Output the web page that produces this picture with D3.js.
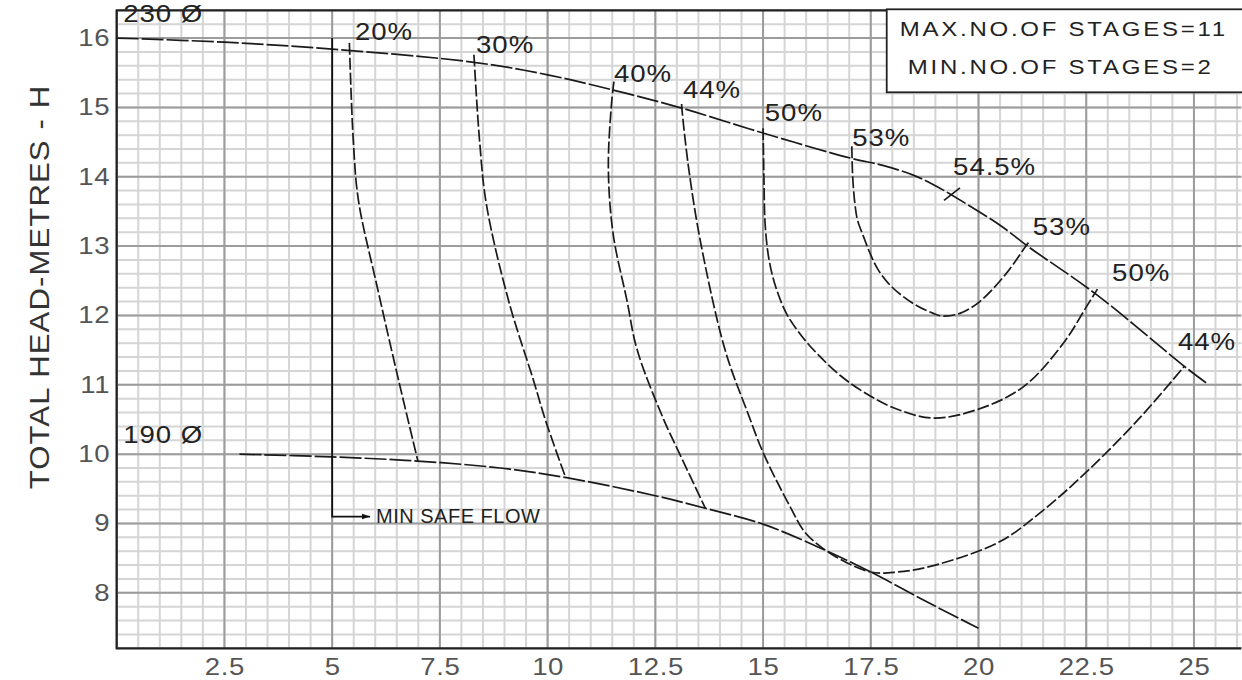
<!DOCTYPE html>
<html>
<head>
<meta charset="utf-8">
<script src="https://cdn.jsdelivr.net/npm/d3@7"></script>
<style>
  html, body { margin: 0; padding: 0; background: #fff; }
  svg { display: block; font-family: "Liberation Sans", Arial, sans-serif; }
</style>
</head>
<body>
<svg id="chart" width="1242" height="680"></svg>
<script>
// ---------- DATA ----------
const xTicks = [2.5, 5, 7.5, 10, 12.5, 15, 17.5, 20, 22.5, 25];
const yTicks = [8, 9, 10, 11, 12, 13, 14, 15, 16];

// Head curves (flow, head)
const head230 = [[0,16.0],[2.5,15.94],[5,15.84],[8.29,15.65],[10,15.47],[11.52,15.25],[13.11,14.99],[15,14.63],[17.02,14.27],[17.8,14.16],[18.5,14.02],[19.0,13.87],[19.34,13.75],[20.5,13.3],[21.16,12.99],[22.74,12.30],[24.83,11.24],[25.3,11.02]];
const head190 = [[2.85,10.0],[5,9.96],[6.98,9.9],[8.9,9.8],[10.44,9.66],[12.5,9.40],[13.66,9.22],[15.0,8.99],[16.35,8.64],[17.5,8.30],[18.8,7.87],[20,7.49]];

// Efficiency curves
const eff20 = [[5.4,15.93],[5.49,14.53],[5.61,13.66],[6.05,12.4],[6.54,11.07],[6.99,9.9]];
const eff30 = [[8.29,15.76],[8.42,14.53],[8.58,13.6],[9.1,12.2],[9.67,11.07],[9.95,10.49],[10.42,9.66]];
const eff40 = [[11.54,15.37],[11.49,15.1],[11.41,14.14],[11.52,13.18],[11.84,12.22],[12.08,11.5],[12.7,10.49],[13.06,10.01],[13.66,9.22]];
const eff44 = [[13.11,15.05],[13.12,14.96],[13.27,14.14],[13.54,13.09],[14.12,11.5],[14.66,10.57],[15.01,10.01],[15.63,9.24],[15.99,8.86],[16.61,8.55],[17.5,8.30],[18.12,8.30],[19.0,8.40],[20.5,8.74],[21.5,9.19],[22.5,9.74],[23.71,10.5],[24.78,11.27]];
const eff50 = [[15.0,14.7],[15.02,14.0],[15.05,13.3],[15.14,12.8],[15.3,12.4],[15.55,12.02],[15.9,11.7],[16.3,11.42],[16.8,11.13],[17.4,10.87],[18.1,10.65],[18.95,10.52],[19.96,10.64],[21.04,10.97],[21.97,11.6],[22.51,12.13],[22.76,12.38]];
const eff53 = [[17.06,14.44],[17.08,14.0],[17.13,13.62],[17.19,13.38],[17.33,13.14],[17.48,12.9],[17.67,12.66],[17.99,12.41],[18.49,12.17],[18.95,12.03],[19.18,11.99],[19.57,12.03],[20.03,12.2],[20.65,12.61],[21.12,13.02],[21.16,13.05]];
const bestPointTick = [[19.2,13.66],[19.57,13.84]];

// Min safe flow marker (flow, head from, head to, arrow end flow)
const minSafeFlow = { flow: 5, headTop: 16.0, headBottom: 9.1, arrowTo: 5.88 };

// Labels (anchor in data units)
const effLabels = [
  {t:"20%", x:5.53, y:15.97},
  {t:"30%", x:8.34, y:15.78},
  {t:"40%", x:11.54, y:15.36},
  {t:"44%", x:13.14, y:15.14},
  {t:"50%", x:15.04, y:14.81},
  {t:"53%", x:17.07, y:14.45},
  {t:"54.5%", x:19.41, y:14.02},
  {t:"53%", x:21.26, y:13.16},
  {t:"50%", x:23.1, y:12.5},
  {t:"44%", x:24.63, y:11.5}
];
const diaLabels = [
  {t:"230 Ø", x:0.15, y:16.23},
  {t:"190 Ø", x:0.15, y:10.16}
];
const stageLines = ["MAX.NO.OF STAGES=11", "MIN.NO.OF STAGES=2"];
const yTitle = "TOTAL HEAD-METRES - H";
const minSafeText = "MIN SAFE FLOW";

// ---------- DRAW ----------
const svg = d3.select("#chart");
const pLeft = 116.7, pTop = 10.3, pBottom = 648.3;
const SX = 1.2; // horizontal glyph stretch of the original lettering
const x = d3.scaleLinear().domain([0, 26.1]).range([pLeft, pLeft + 26.1 * 43.09]);
const y = d3.scaleLinear().domain([7.2, 16.4]).range([pBottom, pTop]);
const pRight = x(26.1);

// grid
const minorX = d3.range(0, 26.01, 0.5);
const minorY = d3.range(7.2, 16.41, 0.2);
const grid = svg.append("g");
grid.selectAll("line.mx").data(minorX).join("line")
  .attr("x1", d => x(d)).attr("x2", d => x(d)).attr("y1", pTop).attr("y2", pBottom)
  .attr("stroke", "#d5d5d5").attr("stroke-width", 2);
grid.selectAll("line.my").data(minorY).join("line")
  .attr("y1", d => y(d)).attr("y2", d => y(d)).attr("x1", pLeft).attr("x2", pRight)
  .attr("stroke", "#d5d5d5").attr("stroke-width", 2);
const majorX = d3.range(0, 26.01, 2.5);
grid.selectAll("line.Mx").data(majorX).join("line")
  .attr("x1", d => x(d)).attr("x2", d => x(d)).attr("y1", pTop).attr("y2", pBottom)
  .attr("stroke", "#9c9c9c").attr("stroke-width", 2);
grid.selectAll("line.My").data(yTicks).join("line")
  .attr("y1", d => y(d)).attr("y2", d => y(d)).attr("x1", pLeft).attr("x2", pRight)
  .attr("stroke", "#9c9c9c").attr("stroke-width", 2);

// frame
svg.append("path")
  .attr("d", `M${pRight},${pTop}H${pLeft}V${pBottom}H${pRight}`)
  .attr("fill", "none").attr("stroke", "#222").attr("stroke-width", 2.2);

// axes
const xAxis = svg.append("g").attr("transform", `translate(0,${pBottom})`)
  .call(d3.axisBottom(x).tickValues(xTicks).tickSize(0).tickPadding(10).tickFormat(d => String(d)));
xAxis.select(".domain").remove();
xAxis.selectAll("text").attr("font-size", 23).attr("fill", "#555")
  .attr("transform", `scale(${SX},1)`).style("letter-spacing", "0.5px");

const yAxis = svg.append("g").attr("transform", `translate(${pLeft},0)`)
  .call(d3.axisLeft(y).tickValues(yTicks).tickSize(0).tickFormat(d => String(d)));
yAxis.select(".domain").remove();
yAxis.selectAll("text").attr("font-size", 23).attr("fill", "#555")
  .attr("x", -6.5 / SX).attr("transform", `scale(${SX},1)`).style("letter-spacing", "0.5px");

// y title
svg.append("text")
  .attr("transform", `translate(49,287) rotate(-90) scale(1.15,1)`)
  .attr("text-anchor", "middle")
  .attr("font-size", 27).attr("fill", "#333")
  .style("letter-spacing", "1px")
  .text(yTitle);

// curves
const line = d3.line().x(d => x(d[0])).y(d => y(d[1])).curve(d3.curveCatmullRom.alpha(0.5));
const curves = svg.append("g").attr("fill", "none").attr("stroke", "#1a1a1a").attr("stroke-width", 1.7);
[head230, head190].forEach(c => curves.append("path").attr("d", line(c)).attr("stroke-dasharray", "22,3"));
[eff20, eff30, eff40, eff44, eff50, eff53].forEach(c => curves.append("path").attr("d", line(c)).attr("stroke-dasharray", "12,3"));
curves.append("path").attr("d", d3.line().x(d => x(d[0])).y(d => y(d[1]))(bestPointTick));

// min safe flow
svg.append("defs").append("marker")
  .attr("id", "arr").attr("viewBox", "0 0 10 10").attr("refX", 10).attr("refY", 5)
  .attr("markerWidth", 17).attr("markerHeight", 8).attr("markerUnits", "userSpaceOnUse")
  .attr("orient", "auto")
  .append("path").attr("d", "M0,1.5L10,5L0,8.5Z").attr("fill", "#111");
svg.append("path")
  .attr("d", `M${x(minSafeFlow.flow)},${y(minSafeFlow.headTop)}V${y(minSafeFlow.headBottom)}H${x(minSafeFlow.arrowTo)}`)
  .attr("fill", "none").attr("stroke", "#111").attr("stroke-width", 1.8)
  .attr("marker-end", "url(#arr)");
svg.append("text")
  .attr("x", x(minSafeFlow.arrowTo) + 6).attr("y", y(minSafeFlow.headBottom) + 6)
  .attr("font-size", 20).attr("fill", "#222").style("letter-spacing", "0.5px")
  .text(minSafeText);

// labels
svg.append("g").selectAll("text").data(effLabels.concat(diaLabels)).join("text")
  .attr("transform", d => `translate(${x(d.x)},${y(d.y)}) scale(${SX},1)`)
  .attr("font-size", 23).attr("fill", "#222").style("letter-spacing", "0.8px")
  .text(d => d.t);

// stages box
const boxLeft = x(17.87);
svg.append("rect")
  .attr("x", boxLeft).attr("y", pTop - 1).attr("width", 1242 - boxLeft + 5).attr("height", 83)
  .attr("fill", "#fff").attr("stroke", "#222").attr("stroke-width", 1.8);
svg.append("g").selectAll("text").data(stageLines).join("text")
  .attr("transform", (d, i) => `translate(${boxLeft + (i === 0 ? 13 : 21)},${pTop + 26 + i * 38}) scale(${SX},1)`)
  .attr("font-size", 20).attr("fill", "#222").style("letter-spacing", "2.3px")
  .text(d => d);
</script>
</body>
</html>
